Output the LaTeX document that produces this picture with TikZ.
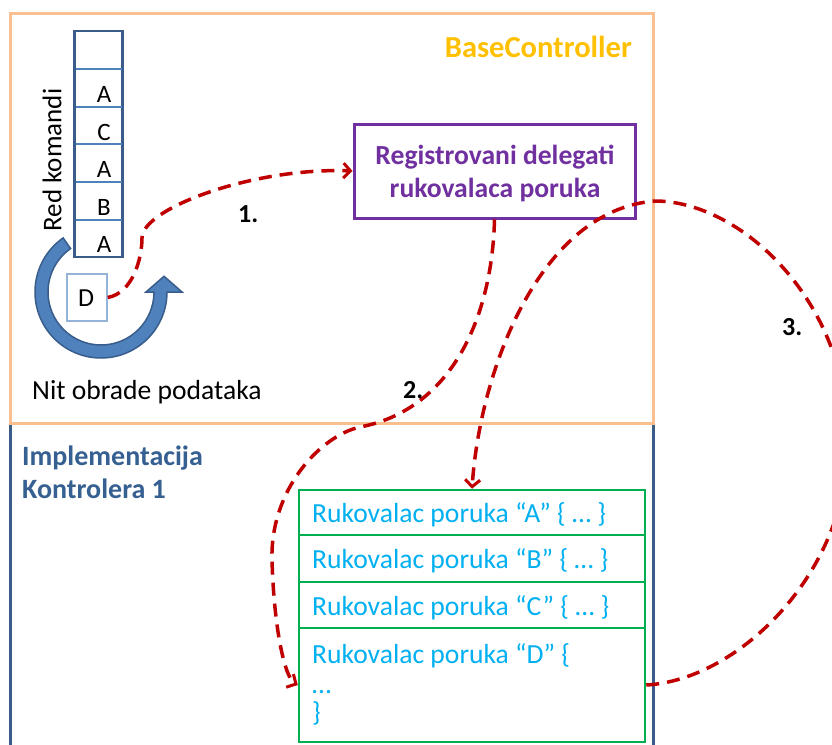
\documentclass[tikz,border=0pt]{standalone}
\usepackage{fontspec}
\setmainfont{Carlito}
\usetikzlibrary{arrows.meta}
\definecolor{baseframe}{RGB}{250,191,143}
\definecolor{implframe}{RGB}{56,93,138}
\definecolor{basetitle}{RGB}{255,192,0}
\definecolor{delegcol}{RGB}{112,48,160}
\definecolor{handlerframe}{RGB}{0,176,80}
\definecolor{handlertext}{RGB}{0,176,240}
\definecolor{flowred}{RGB}{192,0,0}
\definecolor{cellline}{RGB}{79,129,189}
\definecolor{impltext}{RGB}{54,96,146}
\definecolor{cmdframe}{RGB}{149,179,215}
\begin{document}
\begin{tikzpicture}[x=1pt,y=-1pt,
  txt/.style={inner sep=0pt, font=\fontsize{27.6}{33}\selectfont},
  boldtxt/.style={inner sep=0pt, font=\fontsize{27.6}{33}\selectfont\bfseries},
  celltxt/.style={inner sep=0pt, font=\fontsize{25}{28}\selectfont, anchor=base},
  steplbl/.style={inner sep=0pt, font=\fontsize{26}{30}\selectfont\bfseries, anchor=base west},
  handler/.style={draw=handlerframe, line width=2.5pt, minimum width=346pt, inner sep=0pt},
  handlertxt/.style={txt, text=handlertext, anchor=base west},
  flowline/.style={draw=flowred, line width=3.5pt, dash pattern=on 13pt off 8pt,
    -{Straight Barb[length=7pt,width=15pt,line width=3pt]}}]

\useasboundingbox (0,0) rectangle (832,744);
\fill[white] (0,0) rectangle (832,744);
\clip (0,0) rectangle (832,744);

% frames
\draw[implframe, line width=3pt] (10,423) rectangle (653,800);
\draw[baseframe, line width=3pt] (10,13) rectangle (653,423);

% titles
\node[boldtxt, font=\fontsize{30.5}{36}\selectfont\bfseries, text=basetitle, anchor=base east] (basettl) at (632,57) {BaseController};
\node[boldtxt, font=\fontsize{28}{33}\selectfont\bfseries, text=impltext, anchor=base west] (implttl1) at (22,465) {Implementacija};
\node[boldtxt, font=\fontsize{28}{33}\selectfont\bfseries, text=impltext, anchor=base west] (implttl2) at (22,498) {Kontrolera 1};

% command queue
\node[draw=implframe, line width=2.5pt, minimum width=48pt, minimum height=226pt, inner sep=0pt] (queue) at (98.5,144) {};
\foreach \yy in {69,107,144,182,220}
  \draw[cellline, line width=1.5pt] (75.5,\yy) -- (121.5,\yy);
\node[celltxt] (q1) at (104,102) {A};
\node[celltxt] (q2) at (104,140) {C};
\node[celltxt] (q3) at (104,177) {A};
\node[celltxt] (q4) at (104,215) {B};
\node[celltxt] (q5) at (104,252) {A};
\node[txt, font=\fontsize{27}{33}\selectfont, rotate=90] (queuelbl) at (52,160) {Red komandi};

% current command
\node[draw=cmdframe, line width=1.5pt, minimum width=40pt, minimum height=47pt, inner sep=0pt] (dcmd) at (87,297.5) {};
\node[celltxt, font=\fontsize{26}{28}\selectfont] (dcmdtxt) at (86,306) {D};

% processing loop arrow
\begin{scope}[shift={(101,292)}, yscale=-1]
  \filldraw[fill=cellline, draw=implframe, line width=1.5pt]
    (125:66) arc[start angle=125, end angle=360, radius=66]
    -- (0:81) -- (14:65) -- (0:45) -- (0:53)
    arc[start angle=360, end angle=125, radius=53] -- cycle;
\end{scope}
\node[txt, anchor=base west] (threadlbl) at (32,399) {Nit obrade podataka};

% registered delegates
\node[draw=delegcol, line width=3pt, minimum width=281pt, minimum height=94pt, inner sep=0pt] (deleg) at (494.5,171) {};
\node[boldtxt, text=delegcol, anchor=base] (deleg1) at (495,164) {Registrovani delegati};
\node[boldtxt, text=delegcol, anchor=base] (deleg2) at (495,197) {rukovalaca poruka};

% message handlers
\node[handler, minimum height=45pt] (h1) at (472,512.5) {};
\node[handler, minimum height=47pt] (h2) at (472,558.5) {};
\node[handler, minimum height=46pt] (h3) at (472,605) {};
\node[handler, minimum height=114pt] (h4) at (472,685) {};
\node[handlertxt] (h1txt) at (312,522) {Rukovalac poruka “A” \{ … \}};
\node[handlertxt] (h2txt) at (312,568) {Rukovalac poruka “B” \{ … \}};
\node[handlertxt] (h3txt) at (312,615) {Rukovalac poruka “C” \{ … \}};
\node[handlertxt] (h4txt) at (312,663) {Rukovalac poruka “D” \{};
\node[handlertxt] (h4dots) at (312,693) {…};
\node[handlertxt] (h4end) at (312,721) {\}};

% flow
\draw[flowline] (dcmd.east) .. controls (133,293) and (142,258) .. (142,238)
  .. controls (142,208) and (255,167) .. (deleg.west);
\draw[flowline] (deleg.south) .. controls (492,320) and (450,410) .. (360,427)
  .. controls (320,436) and (270,490) .. (272,560)
  .. controls (274,630) and (285,678) .. (h4.west);
\draw[flowline] (h4.east) .. controls (740,680) and (850,570) .. (848,440)
  .. controls (848,300) and (740,201) .. (655,201)
  .. controls (540,210) and (480,370) .. (h1.north);

\node[steplbl] (s1) at (238,222) {1.};
\node[steplbl] (s2) at (403,398) {2.};
\node[steplbl] (s3) at (782,335) {3.};
\end{tikzpicture}
\end{document}
